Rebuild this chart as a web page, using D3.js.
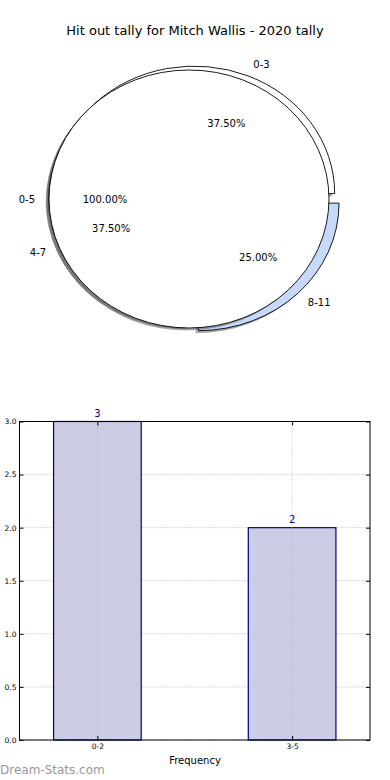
<!DOCTYPE html>
<html><head><meta charset="utf-8">
<script src="https://cdn.jsdelivr.net/npm/d3@7"></script>
<style>
body{margin:0;background:#fff}
svg{display:block;font-family:'DejaVu Sans',sans-serif}
</style>
</head><body><div id="chart"></div>
<script>
// ---- data ----
const title = "Hit out tally for Mitch Wallis - 2020 tally";
const outerLabels = ["0-3","4-7","8-11"];
const outerValues = [3,3,2];
const outerExplode = [0.045,0,0.045];
const outerColors = ["#ffffff","#ffffff","#c6d9fb"];
const innerLabels = ["0-5"];
const innerValues = [5];
const innerColors = ["#ffffff"];
const barCats = ["0-2","3-5"];
const barValues = [3,2];
const yTicks = [0,0.5,1,1.5,2,2.5,3];

const W=390,H=780;
const svg=d3.select("#chart").append("svg").attr("width",W).attr("height",H);

svg.append("text").attr("x",195).attr("y",34.5).attr("text-anchor","middle")
  .attr("font-size",13).attr("fill","#000").text(title);

// ---- pies (matplotlib style: start at 3 o'clock, counter-clockwise, stretched axes) ----
const pie=d3.pie().sort(null).startAngle(Math.PI/2).endAngle(Math.PI/2-2*Math.PI);
const arc=d3.arc().innerRadius(0).outerRadius(1);

function drawPie(labels, values, explode, colors, geo){
  const total=d3.sum(values);
  const arcs=pie(values);
  const g=svg.append("g");
  const txt=[];
  arcs.forEach((a,i)=>{
    const m=(a.startAngle+a.endAngle)/2;
    const ux=Math.sin(m), uy=-Math.cos(m);
    const e=explode?explode[i]:0;
    const ox=geo.cx+e*ux*geo.ex, oy=geo.cy+e*uy*geo.ey;
    // shadow
    g.append("path").attr("d",arc(a))
      .attr("transform",`translate(${ox-0.02*geo.rx},${oy+0.02*geo.ry}) scale(${geo.rx},${geo.ry})`)
      .attr("fill","#4d4d4d").attr("fill-opacity",0.5);
    g.append("path").attr("d",arc(a))
      .attr("transform",`translate(${ox},${oy}) scale(${geo.rx},${geo.ry})`)
      .attr("fill",colors[i]).attr("stroke","#000").attr("stroke-width",0.9)
      .attr("vector-effect","non-scaling-stroke");
    txt.push({t:labels[i],x:ox+1.1*ux*geo.rx,y:oy+1.1*uy*geo.ry,
      anchor:ux>1e-6?"start":(ux<-1e-6?"end":"middle")});
    txt.push({t:(values[i]/total*100).toFixed(2)+"%",x:ox+0.6*ux*geo.rx,y:oy+0.6*uy*geo.ry,anchor:"middle"});
  });
  return txt;
}
const t1=drawPie(outerLabels,outerValues,outerExplode,outerColors,{cx:189,cy:199,rx:140.5,ry:127.5,ex:300,ey:130});
const t2=drawPie(innerLabels,innerValues,null,innerColors,{cx:189,cy:199,rx:140,ry:129,ex:0,ey:0});
svg.append("g").selectAll("text").data(t1.concat(t2)).join("text")
  .attr("x",d=>d.x).attr("y",d=>d.y).attr("dy","0.36em")
  .attr("text-anchor",d=>d.anchor).attr("font-size",10).attr("fill","#000")
  .text(d=>d.t);

// ---- bar chart ----
const L=19.5,R=370,T=421.5,B=740;
const x=d3.scaleLinear().domain([-0.4,1.4]).range([L,R]);
const y=d3.scaleLinear().domain([0,3]).range([B,T]);
const bw=0.45;
const bg=svg.append("g");

// grid
bg.selectAll(".hg").data(yTicks).join("line")
  .attr("x1",L).attr("x2",R).attr("y1",d=>y(d)).attr("y2",d=>y(d))
  .attr("stroke","#b0b0b0").attr("stroke-width",1).attr("stroke-dasharray","1,2");

bg.selectAll("rect").data(barValues).join("rect")
  .attr("x",(d,i)=>x(i-bw/2)).attr("width",x(bw)-x(0))
  .attr("y",d=>y(d)).attr("height",d=>B-y(d))
  .attr("fill","#ccccE5").attr("stroke","#000080").attr("stroke-width",1.2);

bg.selectAll(".vg").data(barCats).join("line")
  .attr("x1",(d,i)=>x(i)).attr("x2",(d,i)=>x(i)).attr("y1",T).attr("y2",B)
  .attr("stroke","#b0b0b0").attr("stroke-width",1).attr("stroke-dasharray","1,2");

// value labels
bg.selectAll(".vl").data(barValues).join("text")
  .attr("x",(d,i)=>x(i)).attr("y",d=>y(d)-4.5)
  .attr("text-anchor","middle").attr("font-size",10).attr("fill","#000080").text(d=>d);

// frame
bg.append("rect").attr("x",L).attr("y",T).attr("width",R-L).attr("height",B-T)
  .attr("fill","none").attr("stroke","#000").attr("stroke-width",1);

// ticks (inward, all sides)
const yAxL=d3.axisLeft(y).tickValues(yTicks).tickSize(-4).tickPadding(3).tickFormat(d3.format(".1f"));
const yAxR=d3.axisRight(y).tickValues(yTicks).tickSize(-4).tickFormat("");
const xAxB=d3.axisBottom(x).tickValues([0,1]).tickSize(-4).tickPadding(4).tickFormat((d,i)=>barCats[i]);
const xAxT=d3.axisTop(x).tickValues([0,1]).tickSize(-4).tickFormat("");
[[yAxL,`translate(${L},0)`],[yAxR,`translate(${R},0)`],[xAxB,`translate(0,${B})`],[xAxT,`translate(0,${T})`]]
  .forEach(([ax,tr])=>{
    const a=bg.append("g").attr("transform",tr).call(ax);
    a.select(".domain").remove();
    a.selectAll("text").attr("font-size",7.5).attr("fill","#000").attr("font-family","'DejaVu Sans',sans-serif");
    a.selectAll(".tick line").attr("stroke","#000");
  });

svg.append("text").attr("x",195).attr("y",764).attr("text-anchor","middle")
  .attr("font-size",10).attr("fill","#000").text("Frequency");
svg.append("text").attr("x",0).attr("y",774)
  .attr("font-size",12).attr("fill","#999").text("Dream-Stats.com");
</script>
</body></html>
